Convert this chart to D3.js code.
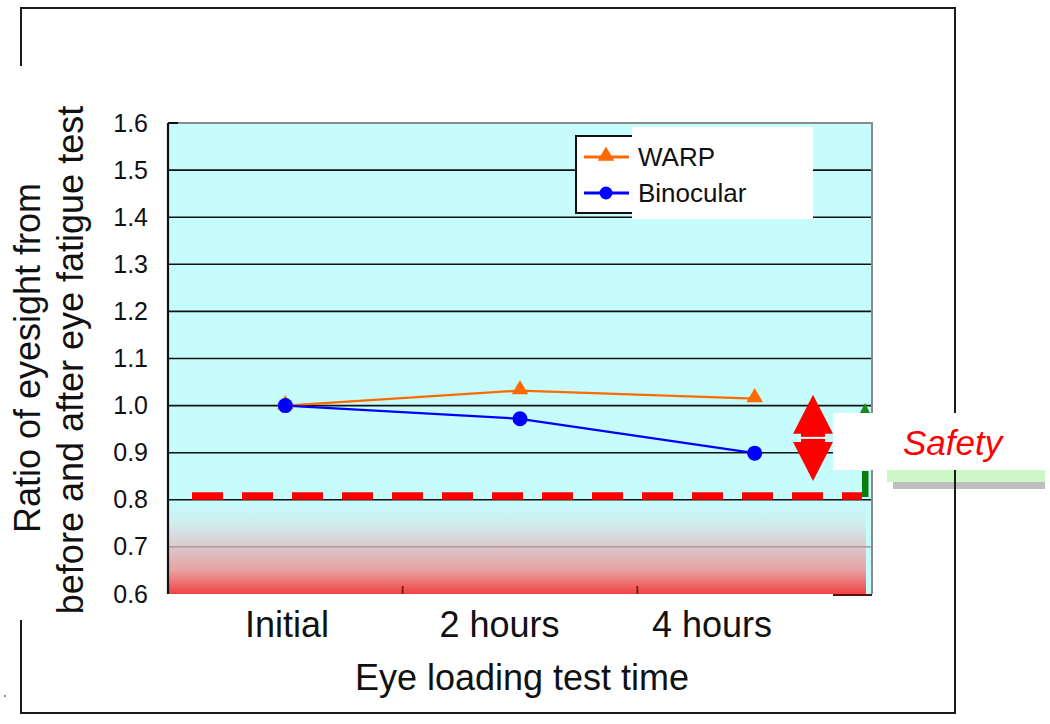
<!DOCTYPE html>
<html>
<head>
<meta charset="utf-8">
<script src="https://cdn.jsdelivr.net/npm/d3@7"></script>
<style>
html,body{margin:0;padding:0;background:#fff;}
svg{display:block;font-family:"Liberation Sans",Arial,sans-serif;}
</style>
</head>
<body>
<svg id="chart" width="1050" height="724"></svg>
<script>
// ---- data ----
const categories = ["Initial", "2 hours", "4 hours"];
const warp = [1.0, 1.032, 1.015];
const binocular = [1.0, 0.972, 0.899];
const seriesNames = ["WARP", "Binocular"];
const yTicks = [0.6, 0.7, 0.8, 0.9, 1.0, 1.1, 1.2, 1.3, 1.4, 1.5, 1.6];
const safetyLevel = [0.808];
const arrowRange = [1.023, 0.84];
const yTitle = ["Ratio of eyesight from", "before and after eye fatigue test"];
const xTitle = "Eye loading test time";
const safetyLabel = "Safety";

// ---- layout ----
const svg = d3.select("#chart");
const L = 168, R = 872, T = 123, B = 594;
const x = d3.scaleBand().domain(categories).range([L, R]).padding(0);
const xLabel = d3.scalePoint().domain(categories).range([287, 712]);
const y = d3.scaleLinear().domain([0.6, 1.6]).range([B, T]);
const cx = c => x(c) + x.bandwidth() / 2;

const defs = svg.append("defs");
const grad = defs.append("linearGradient").attr("id", "danger")
  .attr("x1", 0).attr("y1", 0).attr("x2", 0).attr("y2", 1);
[[0, "#c6fbfb"], [0.25, "#cfeef0"], [0.5, "#dcc8cc"], [0.75, "#e8a0a2"], [1, "#f04444"]]
  .forEach(([o, c]) => grad.append("stop").attr("offset", o).attr("stop-color", c));

// plot background
svg.append("rect").attr("x", L).attr("y", T).attr("width", R - L).attr("height", B - T)
  .attr("fill", "#c6fcfc");
// danger gradient
svg.append("rect").attr("x", L).attr("y", y(0.8)).attr("width", 866 - L).attr("height", B - y(0.8))
  .attr("fill", "url(#danger)");

// gridlines
svg.append("g").selectAll("line").data(yTicks.filter(d => d > 0.6 && d < 1.6)).join("line")
  .attr("x1", L).attr("x2", R).attr("y1", d => y(d)).attr("y2", d => y(d))
  .attr("stroke", d => d === 0.7 ? "#b49ca0" : "#111").attr("stroke-width", 1.6);

// border top & right (gray)
svg.append("path").attr("d", `M${L},${T}H${R}V${B}`).attr("fill", "none")
  .attr("stroke", "#8a8a8a").attr("stroke-width", 2);
svg.append("line").attr("x1", L).attr("x2", L + 10).attr("y1", T).attr("y2", T)
  .attr("stroke", "#111").attr("stroke-width", 2);
// left axis
svg.append("line").attr("x1", L).attr("x2", L).attr("y1", T).attr("y2", B)
  .attr("stroke", "#111").attr("stroke-width", 2.2);
// bottom right dark bit
svg.append("line").attr("x1", 833).attr("x2", R).attr("y1", B + 1).attr("y2", B + 1)
  .attr("stroke", "#5a1010").attr("stroke-width", 2);

// x ticks at band boundaries
svg.append("g").selectAll("line").data(categories.slice(1)).join("line")
  .attr("x1", d => x(d)).attr("x2", d => x(d)).attr("y1", B - 8).attr("y2", B)
  .attr("stroke", "#8a1a1a").attr("stroke-width", 2);

// safety dashed line
svg.append("line").attr("x1", 192).attr("x2", 862)
  .attr("y1", y(safetyLevel[0])).attr("y2", y(safetyLevel[0]))
  .attr("stroke", "#ff0000").attr("stroke-width", 7.5).attr("stroke-dasharray", "31,19");

// series
const colors = ["#ff6a00", "#0000ff"];
const line = d3.line().x((d, i) => cx(categories[i])).y(d => y(d));
const tri = d3.symbol().type(d3.symbolTriangle).size(120);
[warp, binocular].forEach((s, k) => {
  svg.append("path").attr("d", line(s)).attr("fill", "none")
    .attr("stroke", colors[k]).attr("stroke-width", 2.2);
});
svg.append("g").selectAll("path").data(warp).join("path")
  .attr("d", tri).attr("fill", colors[0])
  .attr("transform", (d, i) => `translate(${cx(categories[i])},${y(d) - 1})`);
svg.append("g").selectAll("circle").data(binocular).join("circle")
  .attr("cx", (d, i) => cx(categories[i])).attr("cy", d => y(d)).attr("r", 7.5)
  .attr("fill", colors[1]);

// legend
svg.append("rect").attr("x", 576).attr("y", 136).attr("width", 60).attr("height", 77).attr("fill", "#fff");
svg.append("path").attr("d", "M633,136H576V213H633").attr("fill", "none")
  .attr("stroke", "#111").attr("stroke-width", 2);
svg.append("rect").attr("x", 632).attr("y", 127).attr("width", 181).attr("height", 92).attr("fill", "#fff");
const legY = [157, 193];
seriesNames.forEach((n, k) => {
  svg.append("line").attr("x1", 584).attr("x2", 629).attr("y1", legY[k]).attr("y2", legY[k])
    .attr("stroke", colors[k]).attr("stroke-width", 3);
  if (k === 0) {
    svg.append("path").attr("d", tri).attr("fill", colors[0])
      .attr("transform", `translate(606,${legY[k] - 1})`);
  } else {
    svg.append("circle").attr("cx", 606).attr("cy", legY[k]).attr("r", 6.5).attr("fill", colors[1]);
  }
  svg.append("text").attr("x", 638).attr("y", legY[k] + 9).text(n)
    .attr("font-size", 26).attr("fill", "#111");
});

// red double arrow
const aTop = y(arrowRange[0]), aBot = y(arrowRange[1]);
const ax = 813, aw = 20;
svg.append("path").attr("fill", "#ff0000")
  .attr("d", `M${ax},${aTop}L${ax + aw},${aTop + 39}L${ax - aw},${aTop + 39}Z`);
svg.append("path").attr("fill", "#ff0000")
  .attr("d", `M${ax},${aBot}L${ax + aw},${aBot - 39}L${ax - aw},${aBot - 39}Z`);
svg.append("rect").attr("x", ax - 12).attr("y", aTop + 37).attr("width", 24).attr("height", (aBot - aTop) - 74)
  .attr("fill", "#ff0000");
svg.append("line").attr("x1", ax - 12).attr("x2", ax + 12)
  .attr("y1", (aTop + aBot) / 2).attr("y2", (aTop + aBot) / 2)
  .attr("stroke", "#fff").attr("stroke-width", 2);

// safety decorations
svg.append("rect").attr("x", 887).attr("y", 470).attr("width", 158).attr("height", 12).attr("fill", "#cdf7c6");
svg.append("rect").attr("x", 893).attr("y", 482).attr("width", 152).attr("height", 7).attr("fill", "#bdbdbd");
svg.append("path").attr("d", "M860,413L865,403L870,413Z").attr("fill", "#1a8a1a");
svg.append("rect").attr("x", 862).attr("y", 471).attr("width", 6.5).attr("height", 26).attr("fill", "#0a7d0a");

// outer frame
svg.append("path").attr("fill", "none").attr("stroke", "#1a1a1a").attr("stroke-width", 2)
  .attr("d", "M21,66V8H955V713H21V620");
svg.append("circle").attr("cx", 5).attr("cy", 696).attr("r", 0.9).attr("fill", "#555");

svg.append("rect").attr("x", 833).attr("y", 413).attr("width", 210).attr("height", 57).attr("fill", "#fff");
svg.append("text").attr("x", 903).attr("y", 455).text(safetyLabel)
  .attr("font-size", 35).attr("font-style", "italic").attr("fill", "#ff0000");

// y axis labels
const yAxis = d3.axisLeft(y).tickValues(yTicks).tickFormat(d3.format(".1f")).tickSize(0).tickPadding(20);
const gy = svg.append("g").attr("transform", `translate(${L},0)`).call(yAxis);
gy.select(".domain").remove();
gy.selectAll("text").attr("font-size", 25).attr("fill", "#111")
  .attr("font-family", "Liberation Sans, Arial, sans-serif");

// x labels
svg.append("g").selectAll("text").data(categories).join("text")
  .attr("x", d => xLabel(d)).attr("y", 637).attr("text-anchor", "middle")
  .attr("font-size", 36).attr("fill", "#111").text(d => d);

// titles
svg.append("text").attr("x", 522).attr("y", 690).attr("text-anchor", "middle")
  .attr("font-size", 36).attr("fill", "#111").text(xTitle);
svg.append("text").attr("transform", "translate(40,358) rotate(-90)").attr("text-anchor", "middle")
  .attr("font-size", 36).attr("fill", "#111").text(yTitle[0]);
svg.append("text").attr("transform", "translate(83,360) rotate(-90)").attr("text-anchor", "middle")
  .attr("font-size", 36).attr("fill", "#111").text(yTitle[1]);
</script>
</body>
</html>
